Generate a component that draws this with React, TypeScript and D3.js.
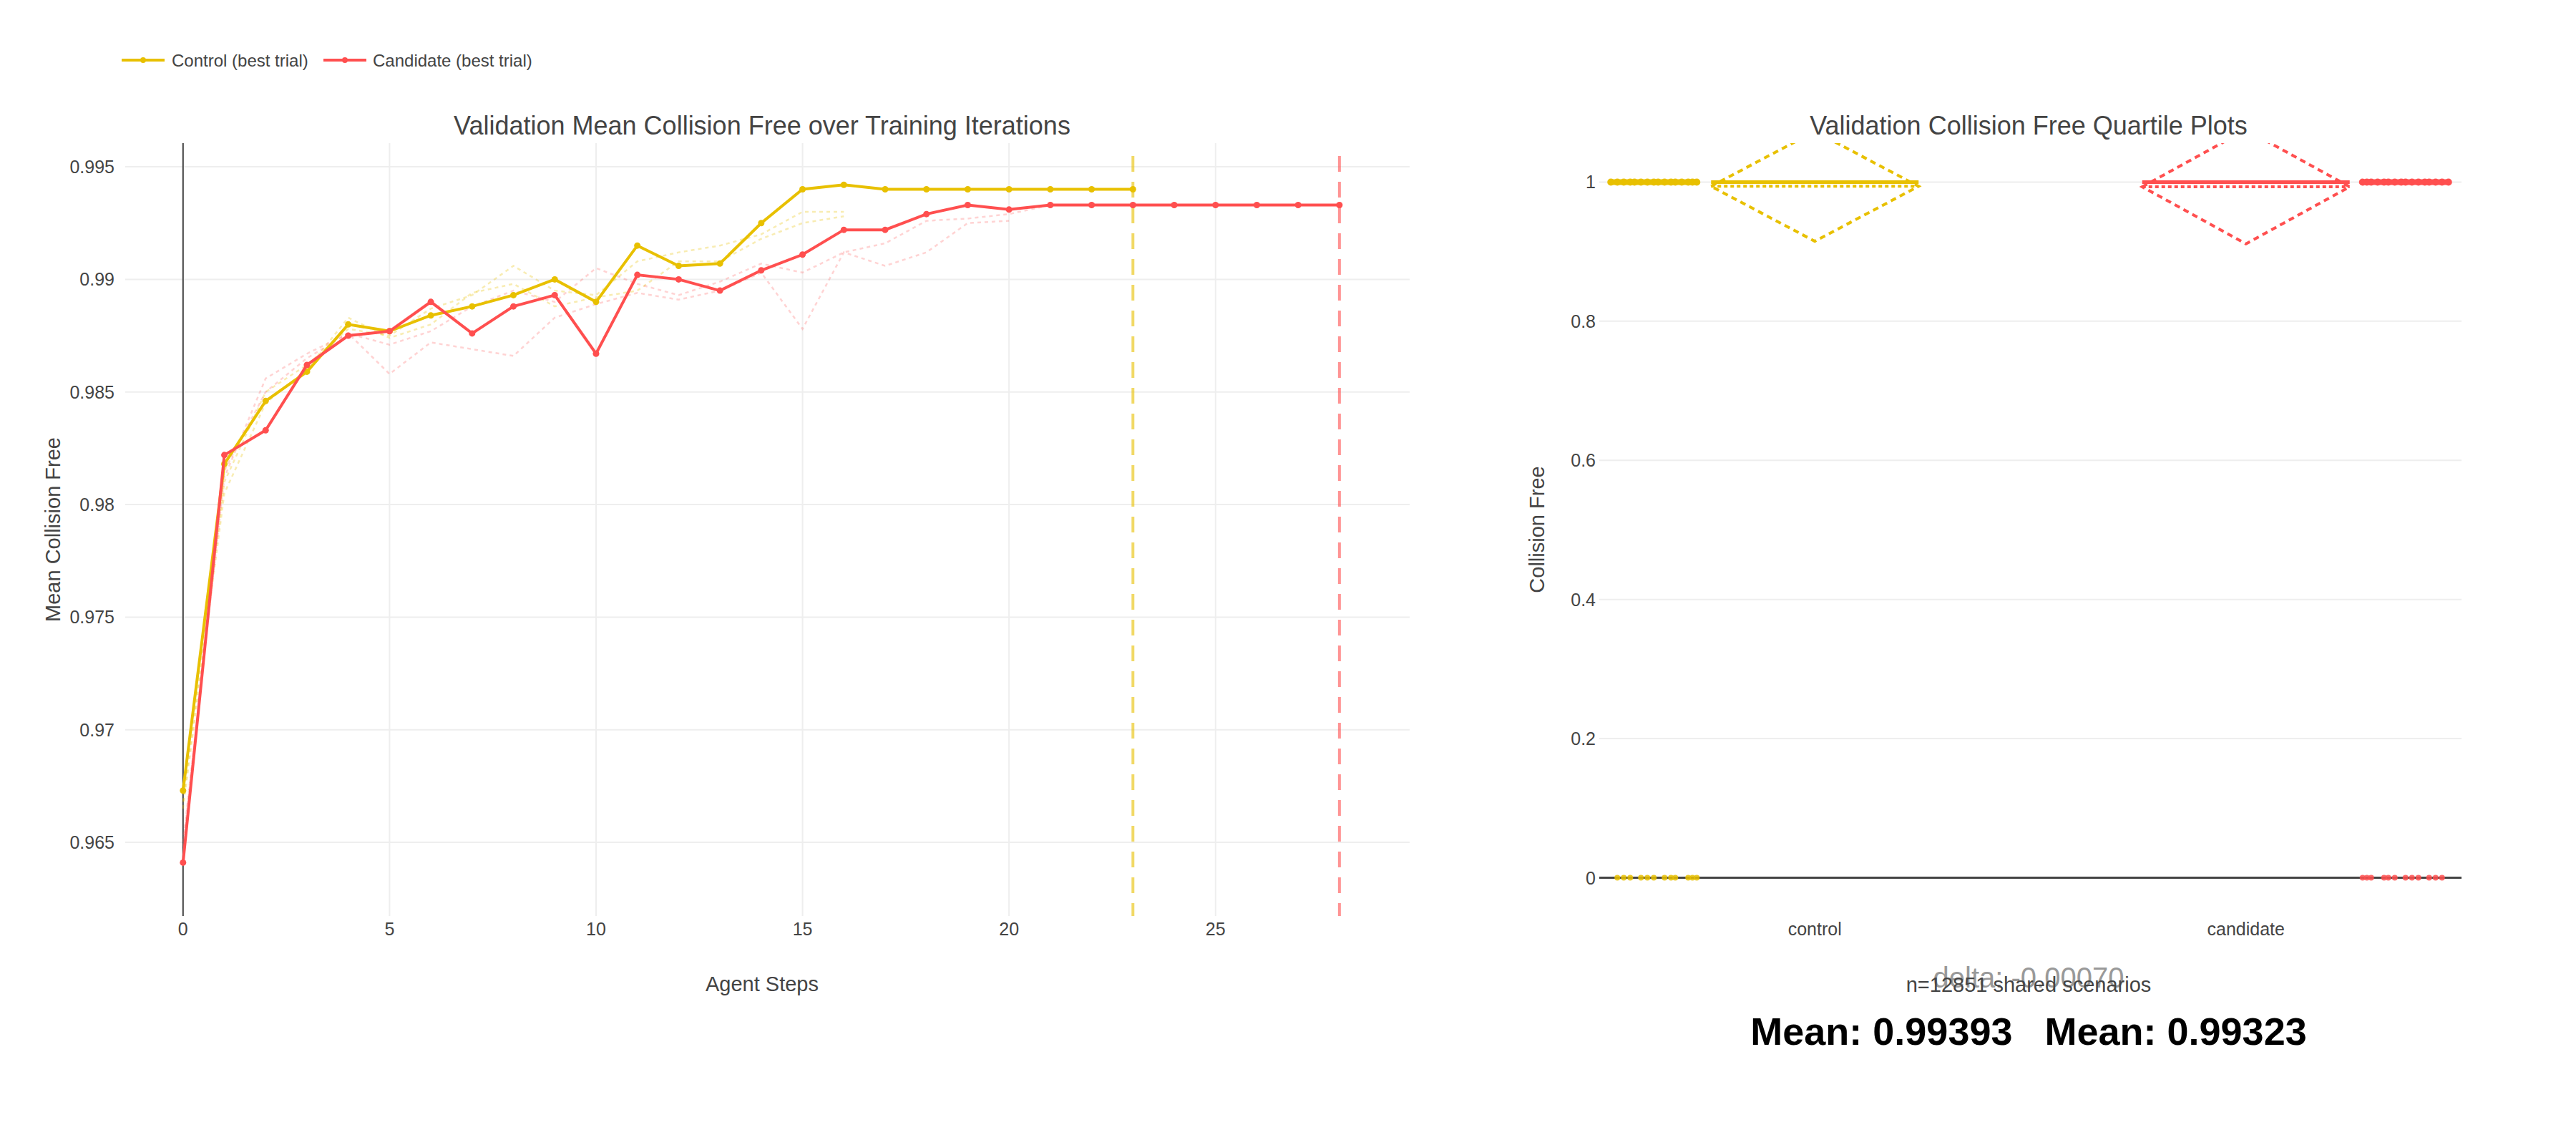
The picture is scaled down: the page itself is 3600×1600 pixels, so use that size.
import * as d3 from "d3";

const steps = d3.range(0, 29);
const controlBest = [0.9673, 0.9818, 0.9846, 0.9859, 0.988, 0.9877, 0.9884, 0.9888, 0.9893, 0.99, 0.989, 0.9915, 0.9906, 0.9907, 0.9925, 0.994, 0.9942, 0.994, 0.994, 0.994, 0.994, 0.994, 0.994, 0.994];
const candidateBest = [0.9641, 0.9822, 0.9833, 0.9862, 0.9875, 0.9877, 0.989, 0.9876, 0.9888, 0.9893, 0.9867, 0.9902, 0.99, 0.9895, 0.9904, 0.9911, 0.9922, 0.9922, 0.9929, 0.9933, 0.9931, 0.9933, 0.9933, 0.9933, 0.9933, 0.9933, 0.9933, 0.9933, 0.9933];
const controlTrials = [
  [0.9668, 0.981, 0.985, 0.9862, 0.9878, 0.9875, 0.9887, 0.9893, 0.9906, 0.9895, 0.9893, 0.9908, 0.9912, 0.9915, 0.992, 0.993, 0.993],
  [0.9665, 0.9805, 0.9845, 0.986, 0.9883, 0.9874, 0.988, 0.9894, 0.9898, 0.9888, 0.9892, 0.9895, 0.9908, 0.9908, 0.9918, 0.9925, 0.9928],
];
const candidateTrials = [
  [0.965, 0.9812, 0.9856, 0.9867, 0.9876, 0.9871, 0.9877, 0.9888, 0.9895, 0.989, 0.9905, 0.9898, 0.9893, 0.9899, 0.9907, 0.9903, 0.9912, 0.9916, 0.9926, 0.9927, 0.9929, 0.9933],
  [0.9648, 0.9815, 0.985, 0.9865, 0.9876, 0.9858, 0.9872, 0.9869, 0.9866, 0.9883, 0.9889, 0.9894, 0.9891, 0.9895, 0.9903, 0.9878, 0.9912, 0.9906, 0.9912, 0.9925, 0.9926],
];
const controlEnd = 23;
const candidateEnd = 28;
const xTicks = [0, 5, 10, 15, 20, 25];
const yTicks = [0.965, 0.97, 0.975, 0.98, 0.985, 0.99, 0.995];

const groups = ["control", "candidate"];
const groupMeans = [0.99393, 0.99323];
const groupSd = [0.079, 0.082];
const groupSide = [-1, 1];
const jitterOffsets = [0.0, 0.02, 0.04, 0.07, 0.1, 0.12, 0.15, 0.18, 0.2, 0.23, 0.26, 0.29, 0.31, 0.34, 0.37, 0.4];
const rTicks = [0, 0.2, 0.4, 0.6, 0.8, 1];

const GOLD = "#e8c000";
const RED = "#ff4f4f";
const FONT = "'Liberation Sans', Arial, sans-serif";

export default function App() {
  const W = 3600, H = 1600;
  const x = d3.scaleLinear().domain([-1.4, 29.7]).range([175, 1970]);
  const y = d3.scaleLinear().domain([0.96173, 0.99605]).range([1280, 200]);
  const line = d3.line<number>().x((_, i) => x(i)).y((d) => y(d));

  const rx = d3.scaleBand().domain(groups).range([2235, 3440]).paddingInner(0);
  const ry = d3.scaleLinear().domain([-0.055, 1.056]).range([1280, 200]);
  const boxW = 290;

  return (
    <svg width={W} height={H} style={{ display: "block", position: "absolute", left: 0, top: 0, fontFamily: FONT }} viewBox={`0 0 ${W} ${H}`}>
      <rect width={W} height={H} fill="#fff" />
      {/* legend */}
      <g fontSize={24} fill="#444">
        <line x1={170} x2={230} y1={84} y2={84} stroke={GOLD} strokeWidth={4} />
        <circle cx={200} cy={84} r={4} fill={GOLD} />
        <text x={240} y={93}>Control (best trial)</text>
        <line x1={452} x2={512} y1={84} y2={84} stroke={RED} strokeWidth={4} />
        <circle cx={482} cy={84} r={4} fill={RED} />
        <text x={521} y={93}>Candidate (best trial)</text>
      </g>

      {/* left chart */}
      <text x={1065} y={188} textAnchor="middle" fontSize={36} fill="#444">Validation Mean Collision Free over Training Iterations</text>
      {xTicks.map((t) => (
        <g key={t}>
          <line x1={x(t)} x2={x(t)} y1={200} y2={1280} stroke="#eee" strokeWidth={2} />
          <text x={x(t)} y={1307} textAnchor="middle" fontSize={25} fill="#444">{t}</text>
        </g>
      ))}
      {yTicks.map((t) => (
        <g key={t}>
          <line x1={175} x2={1970} y1={y(t)} y2={y(t)} stroke="#eee" strokeWidth={2} />
          <text x={160} y={y(t) + 9} textAnchor="end" fontSize={25} fill="#444">{t}</text>
        </g>
      ))}
      <line x1={x(0)} x2={x(0)} y1={200} y2={1280} stroke="#444" strokeWidth={2} />
      <text x={1065} y={1385} textAnchor="middle" fontSize={29} fill="#444">Agent Steps</text>
      <text transform="translate(84,740) rotate(-90)" textAnchor="middle" fontSize={29} fill="#444">Mean Collision Free</text>
      {controlTrials.map((s, k) => (
        <path key={"ct" + k} d={line(s) ?? ""} fill="none" stroke={GOLD} strokeOpacity={0.3} strokeWidth={2.5} strokeDasharray="5,5" />
      ))}
      {candidateTrials.map((s, k) => (
        <path key={"cat" + k} d={line(s) ?? ""} fill="none" stroke={RED} strokeOpacity={0.25} strokeWidth={2.5} strokeDasharray="5,5" />
      ))}
      <line x1={x(controlEnd)} x2={x(controlEnd)} y1={218} y2={1280} stroke={GOLD} strokeOpacity={0.6} strokeWidth={4} strokeDasharray="22,14" />
      <line x1={x(candidateEnd)} x2={x(candidateEnd)} y1={218} y2={1280} stroke={RED} strokeOpacity={0.6} strokeWidth={4} strokeDasharray="22,14" />
      <path d={line(controlBest) ?? ""} fill="none" stroke={GOLD} strokeWidth={4} />
      {controlBest.map((v, i) => <circle key={"c" + i} cx={x(steps[i])} cy={y(v)} r={4.5} fill={GOLD} />)}
      <path d={line(candidateBest) ?? ""} fill="none" stroke={RED} strokeWidth={4} />
      {candidateBest.map((v, i) => <circle key={"r" + i} cx={x(steps[i])} cy={y(v)} r={4.5} fill={RED} />)}

      {/* right chart */}
      <text x={2835} y={188} textAnchor="middle" fontSize={36} fill="#444">Validation Collision Free Quartile Plots</text>
      {rTicks.map((t) => (
        <g key={t}>
          <line x1={2235} x2={3440} y1={ry(t)} y2={ry(t)} stroke="#eee" strokeWidth={2} />
          <text x={2230} y={ry(t) + 9} textAnchor="end" fontSize={25} fill="#444">{t}</text>
        </g>
      ))}
      <line x1={2235} x2={3440} y1={ry(0)} y2={ry(0)} stroke="#444" strokeWidth={3} />
      <text transform="translate(2158,740) rotate(-90)" textAnchor="middle" fontSize={29} fill="#444">Collision Free</text>
      <defs>
        <clipPath id="rclip"><rect x={2235} y={200} width={1205} height={1080} /></clipPath>
      </defs>
      {groups.map((g, i) => {
        const c = i === 0 ? GOLD : RED;
        const cx = rx(g)! + rx.bandwidth() / 2;
        const x0 = cx - boxW / 2, x1 = cx + boxW / 2;
        const m = groupMeans[i], sd = groupSd[i];
        const ptBase = groupSide[i] < 0 ? x0 - 20 : x1 + 18;
        const ptDir = groupSide[i] < 0 ? -1 : 1;
        return (
          <g key={g}>
            <text x={cx} y={1307} textAnchor="middle" fontSize={25} fill="#444">{g}</text>
            <g clipPath="url(#rclip)">
              <path d={`M${x0},${ry(m)}L${cx},${ry(m + sd)}L${x1},${ry(m)}L${cx},${ry(m - sd)}Z`} fill="none" stroke={c} strokeWidth={4} strokeDasharray="8,6" />
            </g>
            <line x1={x0} x2={x1} y1={ry(m)} y2={ry(m)} stroke={c} strokeWidth={4} strokeDasharray="5,4" />
            <line x1={x0} x2={x1} y1={ry(1)} y2={ry(1)} stroke={c} strokeWidth={5} />
            {jitterOffsets.map((o, k) => (
              <g key={k}>
                <circle cx={ptBase + ptDir * o * 300} cy={ry(1)} r={5} fill={c} />
                {k % 4 !== 3 && <circle cx={ptBase + ptDir * o * 300} cy={ry(0)} r={4} fill={c} fillOpacity={0.85} />}
              </g>
            ))}
            <line x1={ptBase} x2={ptBase + ptDir * 0.4 * 300} y1={ry(1)} y2={ry(1)} stroke={c} strokeWidth={8} />
          </g>
        );
      })}
      <text x={2835} y={1380} textAnchor="middle" fontSize={40} fill="#999">delta: -0.00070</text>
      <text x={2835} y={1386} textAnchor="middle" fontSize={29} fill="#444">n=12851 shared scenarios</text>
      <text x={2835} y={1460} textAnchor="middle" fontSize={54} fontWeight="bold" fill="#000">Mean: 0.99393{"\u00a0\u00a0\u00a0"}Mean: 0.99323</text>
    </svg>
  );
}
